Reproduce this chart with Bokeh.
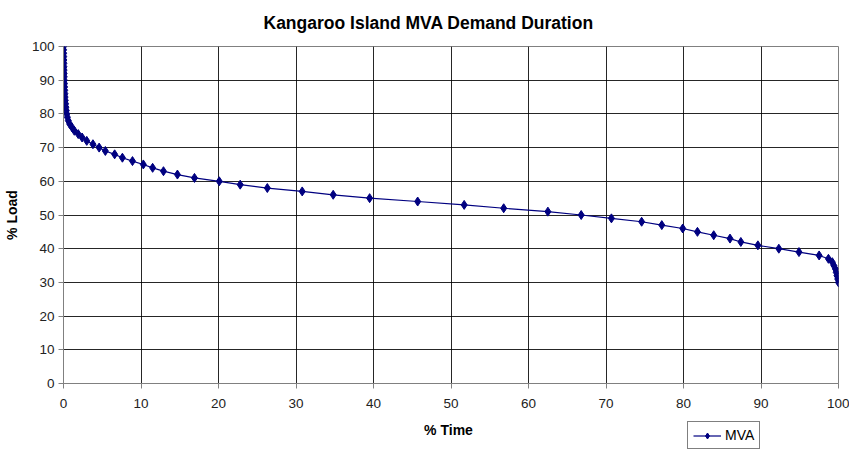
from bokeh.plotting import figure
from bokeh.layouts import column
from bokeh.models import Legend, LegendItem, FixedTicker, Label
from bokeh.embed import file_html
from bokeh.resources import INLINE

# Load duration curve: percentage of time each load level is exceeded
load_pct = [100, 99, 98, 97, 96, 95, 94, 93, 92, 91, 90, 89, 88, 87, 86, 85, 84, 83, 82, 81,
            80, 79, 78, 77, 76, 75, 74, 73, 72, 71, 70, 69, 68, 67, 66, 65, 64, 63, 62, 61,
            60, 59, 58, 57, 56, 55, 54, 53, 52, 51, 50, 49, 48, 47, 46, 45, 44, 43, 42, 41,
            40, 39, 38, 37, 36, 35, 34, 33, 32, 31, 30]
time_pct = [0.0, 0.01, 0.02, 0.03, 0.04, 0.05, 0.06, 0.07, 0.08, 0.09,
            0.10, 0.12, 0.14, 0.16, 0.18, 0.20, 0.23, 0.27, 0.31, 0.36,
            0.42, 0.5, 0.62, 0.8, 1.1, 1.4, 1.9, 2.4, 3.0, 3.8,
            4.6, 5.4, 6.6, 7.6, 8.9, 10.3, 11.5, 12.9, 14.7, 16.9,
            20.1, 22.8, 26.3, 30.8, 34.8, 39.5, 45.7, 51.7, 56.8, 62.5,
            66.8, 70.7, 74.6, 77.2, 79.9, 81.8, 83.9, 86.0, 87.4, 89.6,
            92.3, 94.9, 97.5, 98.7, 99.2, 99.4, 99.6, 99.7, 99.8, 99.9, 100.0]
axis_ticks = [0, 10, 20, 30, 40, 50, 60, 70, 80, 90, 100]

FONT = "Liberation Sans"
NAVY = "#000080"
MARKER_SIZE = 9

# ---- main chart -------------------------------------------------------------
p = figure(width=849, height=420, output_backend="svg", toolbar_location=None,
           x_range=(0, 100), y_range=(0, 100),
           title="Kangaroo Island MVA Demand Duration",
           min_border_left=63, min_border_right=11, min_border_top=46, min_border_bottom=37)

p.title.align = "left"
p.title.offset = 200
p.title.standoff = 24
p.title.vertical_align = "top"
p.title.text_font = FONT
p.title.text_font_size = "17.5px"
p.title.text_font_style = "bold"
p.title.text_color = "#000000"

p.line(time_pct, load_pct, line_color=NAVY, line_width=1.2)
p.scatter(time_pct, load_pct, marker="diamond", size=MARKER_SIZE,
          fill_color=NAVY, line_color=NAVY)

for ax in (p.xaxis, p.yaxis):
    ax.ticker = FixedTicker(ticks=axis_ticks)
    ax.major_label_text_font = FONT
    ax.major_label_text_font_size = "13.5px"
    ax.major_label_text_color = "#222222"
    ax.axis_label_text_font = FONT
    ax.axis_label_text_font_size = "14px"
    ax.axis_label_text_font_style = "bold"
    ax.axis_label_text_color = "#000000"
    ax.axis_line_color = "#808080"
    ax.major_tick_line_color = "#808080"
    ax.major_tick_out = 5
    ax.major_tick_in = 0
    ax.minor_tick_line_color = None

p.yaxis.axis_label = "% Load"
p.yaxis.major_label_standoff = 4
p.yaxis.axis_label_standoff = 9
p.xaxis.major_label_standoff = 10

p.xgrid.grid_line_color = "#000000"
p.ygrid.grid_line_color = "#000000"
p.xgrid.grid_line_alpha = 0.85
p.ygrid.grid_line_alpha = 0.85

p.outline_line_color = "#808080"
p.background_fill_color = "#ffffff"
p.border_fill_color = "#ffffff"

# ---- strip under the chart: x-axis title and legend -------------------------
# Its frame is aligned with the chart's frame, so screen offsets below are
# measured from the chart's left edge at x = 0 %.
strip = figure(width=849, height=30, output_backend="svg", toolbar_location=None,
               x_range=(0, 775), y_range=(0, 30),
               x_axis_location=None, y_axis_location=None, min_border=0)
strip.grid.visible = False
strip.outline_line_color = None
strip.background_fill_color = "#ffffff"
strip.border_fill_color = "#ffffff"

strip.add_layout(Label(x=385, y=21, x_units="screen", y_units="screen", text="% Time",
                       text_font=FONT, text_font_size="14px", text_font_style="bold",
                       text_align="center", text_baseline="middle", text_color="#000000"))

# placeholder renderers (no visible data) that give the legend its line + diamond key
nan = float("nan")
key_line = strip.line(x=[nan], y=[nan], line_color=NAVY, line_width=1.2)
key_pts = strip.scatter(x=[nan], y=[nan], marker="diamond", size=MARKER_SIZE,
                        fill_color=NAVY, line_color=NAVY)
legend = Legend(items=[LegendItem(label="MVA", renderers=[key_line, key_pts])],
                location=(624, 1), orientation="vertical",
                label_text_font=FONT, label_text_font_size="14px",
                label_text_color="#000000",
                label_height=15, glyph_height=15, glyph_width=28, label_standoff=4,
                border_line_color="#000000", border_line_width=1,
                padding=5, margin=0, spacing=0)
strip.add_layout(legend, "center")

layout = column(p, strip, spacing=0)

open("out.html", "w").write(file_html(layout, INLINE))
